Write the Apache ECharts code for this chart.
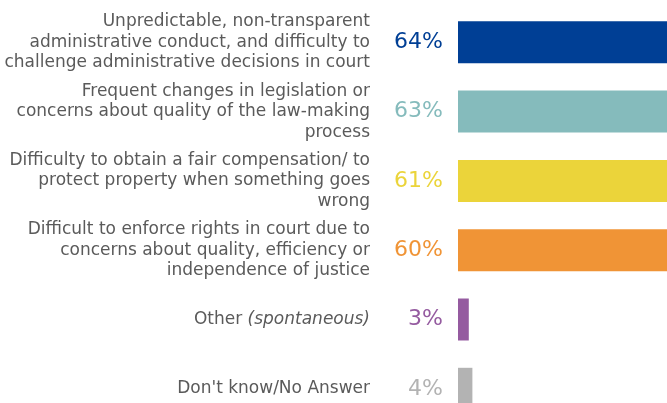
<!DOCTYPE html>
<html>
<head>
<meta charset="utf-8">
<style>
  html, body { margin: 0; padding: 0; background: #ffffff; }
  #chart { width: 667px; height: 403px; }
</style>
<script src="https://cdn.jsdelivr.net/npm/echarts@6/dist/echarts.min.js"></script>
</head>
<body>
<div id="chart"></div>
<script>
// Reasons given, top to bottom
const categories = [
  'Unpredictable, non-transparent\nadministrative conduct, and difficulty to\nchallenge administrative decisions in court',
  'Frequent changes in legislation or\nconcerns about quality of the law-making\nprocess',
  'Difficulty to obtain a fair compensation/ to\nprotect property when something goes\nwrong',
  'Difficult to enforce rights in court due to\nconcerns about quality, efficiency or\nindependence of justice',
  'Other (spontaneous)',
  "Don't know/No Answer"
];
// Share of respondents (%)
const values = [64, 63, 61, 60, 3, 4];
// One colour per reason
const colors = ['#003f95', '#85bbbc', '#ebd43a', '#f09436', '#955ba0', '#b3b3b3'];

const chart = echarts.init(document.getElementById('chart'), null, { renderer: 'canvas' });

const FONT = '"DejaVu Sans", Verdana, sans-serif';
const BAND = 69.3;

chart.setOption({
  animation: false,
  grid: {
    left: 458,
    top: 42.3 - BAND / 2,
    height: BAND * categories.length,
    width: 360,
    containLabel: false,
    outerBoundsMode: 'none'
  },
  xAxis: {
    type: 'value',
    min: 0,
    max: 100,
    show: false
  },
  yAxis: {
    type: 'category',
    inverse: true,
    data: categories,
    axisLine: { show: false },
    axisTick: { show: false },
    splitLine: { show: false },
    axisLabel: {
      margin: 88,
      align: 'right',
      color: '#5a5a5a',
      fontFamily: FONT,
      fontSize: 17,
      lineHeight: 20.5,
      formatter: function (v) {
        if (v.indexOf('(spontaneous)') >= 0) {
          return v.replace(' (spontaneous)', ' {i|(spontaneous)}');
        }
        return v;
      },
      rich: {
        i: {
          fontStyle: 'italic',
          color: '#5a5a5a',
          fontFamily: FONT,
          fontSize: 17,
          lineHeight: 20.5
        }
      }
    }
  },
  series: [{
    type: 'bar',
    barWidth: 42,
    data: values.map(function (v, i) {
      return {
        value: v,
        itemStyle: { color: colors[i] },
        label: { color: colors[i] }
      };
    }),
    label: {
      show: true,
      position: 'left',
      distance: 15,
      fontFamily: FONT,
      fontSize: 22,
      formatter: '{c}%'
    }
  }]
});
</script>
</body>
</html>
